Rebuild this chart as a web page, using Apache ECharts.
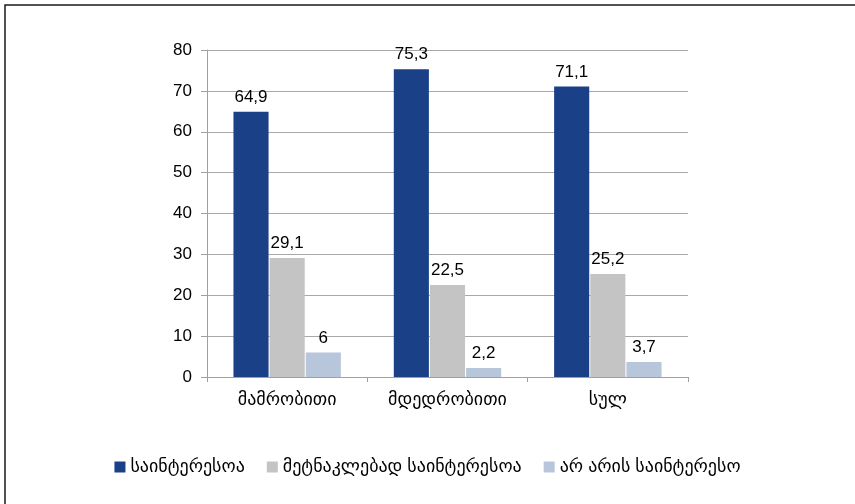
<!DOCTYPE html>
<html><head><meta charset="utf-8">
<script src="https://cdn.jsdelivr.net/npm/echarts@6/dist/echarts.min.js"></script>
<style>html,body{margin:0;padding:0;background:#fff}#c{width:855px;height:504px}</style>
</head><body><div id="c"></div>
<script>
const categories = ['მამრობითი', 'მდედრობითი', 'სულ'];
const seriesNames = ['საინტერესოა', 'მეტნაკლებად საინტერესოა', 'არ არის საინტერესო'];
const interesting = [64.9, 75.3, 71.1];
const somewhat = [29.1, 22.5, 25.2];
const notInteresting = [6, 2.2, 3.7];
const yTicks = [0, 10, 20, 30, 40, 50, 60, 70, 80];
const colors = ['#1a4088', '#c4c4c4', '#b8c6dc'];

const font = '"Liberation Sans", Arial, "DejaVu Sans", sans-serif';
const chart = echarts.init(document.getElementById('c'));
const lbl = {show: true, position: 'top', color: '#000', fontSize: 17, fontFamily: font, distance: 6,
  formatter: p => String(p.value).replace('.', ',')};
const vals = [interesting, somewhat, notInteresting];
chart.setOption({
  animation: false,
  color: colors,
  graphic: [{type: 'rect', shape: {x: 5, y: 5, width: 1000, height: 1000},
    style: {fill: 'none', stroke: '#1a1a1a', lineWidth: 1.5}, silent: true}],
  grid: {left: 207, right: 167, top: 50, bottom: 127},
  legend: {top: 453, left: 'center', itemWidth: 11, itemHeight: 11, itemGap: 22,
    icon: 'rect', textStyle: {fontSize: 18, color: '#000', fontFamily: font}, data: seriesNames},
  xAxis: {type: 'category', data: categories,
    axisLine: {lineStyle: {color: '#a0a0a0'}},
    axisTick: {show: true, length: 5, lineStyle: {color: '#a0a0a0'}},
    axisLabel: {fontSize: 18, color: '#000', fontFamily: font, margin: 14}},
  yAxis: {type: 'value', min: yTicks[0], max: yTicks[yTicks.length - 1], interval: 10,
    axisLine: {show: true, lineStyle: {color: '#a0a0a0'}},
    axisTick: {show: true, length: 6, lineStyle: {color: '#a0a0a0'}},
    splitLine: {lineStyle: {color: '#a8a8a8'}},
    axisLabel: {fontSize: 17, color: '#000', fontFamily: font, margin: 15}},
  series: seriesNames.map((n, i) => ({
    name: n, type: 'bar', data: vals[i], barGap: '3%', barCategoryGap: '33%',
    label: lbl
  }))
});
</script></body></html>
